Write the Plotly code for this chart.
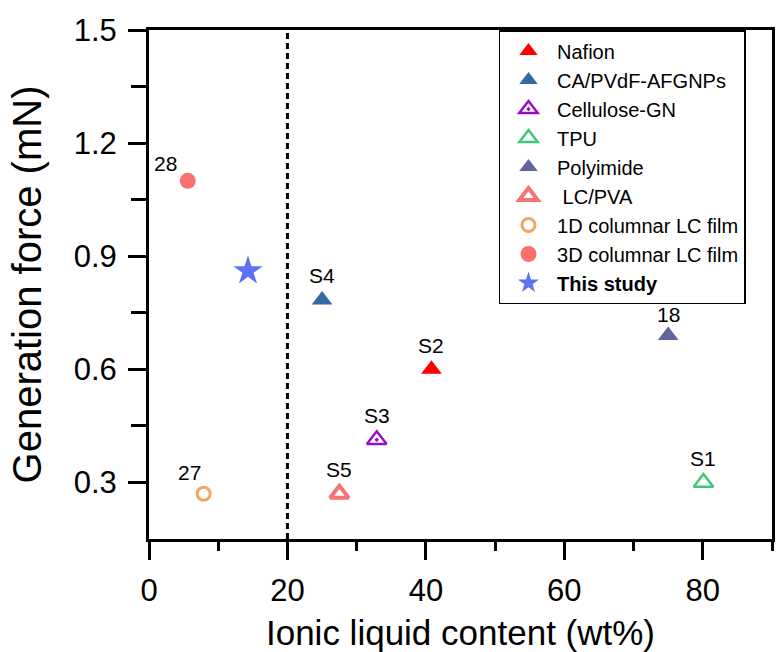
import plotly.graph_objects as go

names = ["Nafion", "CA/PVdF-AFGNPs", "Cellulose-GN", "TPU", "Polyimide", " LC/PVA",
         "1D columnar LC film", "3D columnar LC film", "<b>This study</b>"]
x_vals = [40.8, 25.0, 32.9, 80.1, 75.0, 27.5, 7.9, 5.6, 14.3]
y_vals = [0.60, 0.784, 0.413, 0.30, 0.69, 0.27, 0.27, 1.10, 0.861]
labels = ["S2", "S4", "S3", "S1", "18", "S5", "27", "28", ""]
colors = ["#FF0000", "#35699F", "#9A0CC8", "#3CC878", "#62639A", "#F97373",
          "#F5A562", "#FA7070", "#5C72F5"]
symbols = ["triangle-up", "triangle-up", "triangle-up-open-dot", "triangle-up-open",
           "triangle-up", "triangle-up-open", "circle-open", "circle", "star"]
sizes = [18, 18, 17, 17, 18, 16, 13, 16, 22]
line_w = [0, 0, 2.5, 2.5, 0, 4, 3, 0, 0]

fig = go.Figure()
for i in range(len(names)):
    mk = dict(symbol=symbols[i], size=sizes[i], color=colors[i])
    if "open" in symbols[i]:
        mk["line"] = dict(color=colors[i], width=line_w[i])
    else:
        mk["line"] = dict(width=0)
    fig.add_trace(go.Scatter(x=[x_vals[i]], y=[y_vals[i]], mode="markers",
                             name=names[i], marker=mk))

# point labels
for i in range(len(names)):
    if not labels[i]:
        continue
    xshift = -22 if labels[i] == "28" else (-14 if labels[i] == "27" else 0)
    yshift = 17 if labels[i] == "28" else (21 if labels[i] in ("27", "18") else 24)
    fig.add_annotation(x=x_vals[i], y=y_vals[i], text=labels[i], showarrow=False,
                       xshift=xshift, yshift=yshift,
                       font=dict(family="Arial, Liberation Sans", size=21, color="black"))

# dashed divider at 20 wt%
fig.add_shape(type="line", x0=20, x1=20, y0=0, y1=1, xref="x", yref="paper",
              line=dict(color="black", width=3, dash="6px,4px"))

axis_font = dict(family="Arial, Liberation Sans", size=31, color="black")
fig.update_layout(
    width=777, height=652,
    margin=dict(l=149, r=2, t=30, b=113),
    paper_bgcolor="white", plot_bgcolor="white",
    font=dict(family="Arial, Liberation Sans", color="black"),
    legend=dict(x=0.561, y=1.0, xanchor="left", yanchor="top",
                bordercolor="black", borderwidth=1.5, bgcolor="white",
                font=dict(family="Arial, Liberation Sans", size=20, color="black"),
                itemwidth=47, tracegroupgap=0),
    xaxis=dict(range=[0, 90], tickvals=[0, 20, 40, 60, 80], ticks="outside",
               ticklen=18, tickwidth=3, tickcolor="black", ticklabelstandoff=4,
               minor=dict(tickvals=[10, 30, 50, 70, 90], ticks="outside", ticklen=9,
                          tickwidth=3, tickcolor="black"),
               showline=True, linewidth=3, linecolor="black", mirror=True,
               showgrid=False, zeroline=False, tickfont=axis_font,
               title=dict(text="Ionic liquid content (wt%)", standoff=15,
                          font=dict(family="Arial, Liberation Sans", size=35, color="black"))),
    yaxis=dict(range=[0.15, 1.5], tickvals=[0.3, 0.6, 0.9, 1.2, 1.5],
               ticktext=["0.3", "0.6", "0.9", "1.2", "1.5"], ticks="outside",
               ticklen=18, tickwidth=3, tickcolor="black", ticklabelstandoff=5,
               minor=dict(tickvals=[0.45, 0.75, 1.05, 1.35], ticks="outside", ticklen=15,
                          tickwidth=3, tickcolor="black"),
               showline=True, linewidth=3, linecolor="black", mirror=True,
               showgrid=False, zeroline=False, tickfont=axis_font,
               title=dict(text="Generation force (mN)", standoff=20,
                          font=dict(family="Arial, Liberation Sans", size=40, color="black"))),
)

fig.write_html("out.html")
